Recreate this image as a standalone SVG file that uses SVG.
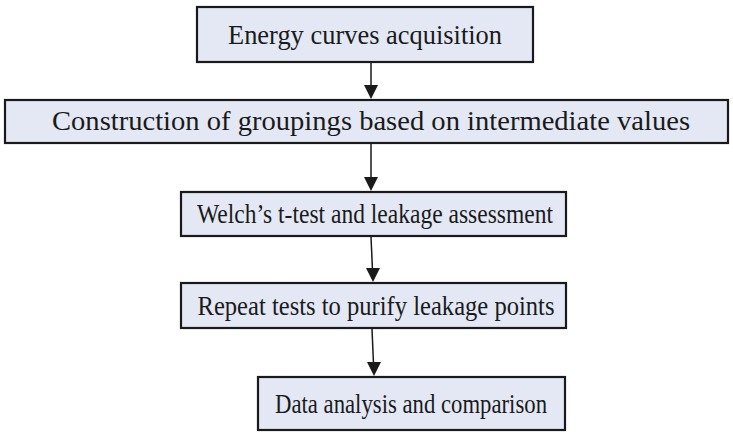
<svg xmlns="http://www.w3.org/2000/svg" width="733" height="433" viewBox="0 0 733 433">
<defs>
<style>
.box{fill:#E3E8F4;stroke:#1a1a1a;stroke-width:2.2}
.t{font-family:"Liberation Serif","Times New Roman",serif;font-size:27px;fill:#1a1a1a;text-anchor:middle}
.c{stroke:#1a1a1a;stroke-width:1.5;fill:none}
.h{fill:#1a1a1a}
</style>
</defs>
<rect width="733" height="433" fill="#ffffff"/>
<g id="connectors">
<line class="c" x1="371" y1="63" x2="371" y2="86"/>
<path class="h" d="M364,85 L378,85 L371,99 Z"/>
<line class="c" x1="371" y1="144" x2="371" y2="179"/>
<path class="h" d="M364,177 L378,177 L371,191 Z"/>
<line class="c" x1="371" y1="237" x2="372.5" y2="270"/>
<path class="h" d="M366,268 L380,268 L373,282 Z"/>
<line class="c" x1="372" y1="329" x2="373.5" y2="364"/>
<path class="h" d="M367,362 L381,362 L374,376 Z"/>
</g>
<g id="n1">
<rect class="box" x="197" y="7" width="336" height="55"/>
<text class="t" x="365" y="44" textLength="274" lengthAdjust="spacingAndGlyphs">Energy curves acquisition</text>
</g>
<g id="n2">
<rect class="box" x="5" y="100" width="723" height="43"/>
<text class="t" x="371" y="130" style="font-size:28px" textLength="638" lengthAdjust="spacingAndGlyphs">Construction of groupings based on intermediate values</text>
</g>
<g id="n3">
<rect class="box" x="181" y="192" width="385" height="44"/>
<text class="t" x="375" y="223" textLength="356" lengthAdjust="spacingAndGlyphs">Welch’s t-test and leakage assessment</text>
</g>
<g id="n4">
<rect class="box" x="181" y="283" width="385" height="45"/>
<text class="t" x="376" y="315" textLength="357" lengthAdjust="spacingAndGlyphs">Repeat tests to purify leakage points</text>
</g>
<g id="n5">
<rect class="box" x="258" y="377" width="307" height="53"/>
<text class="t" x="411" y="413" textLength="272" lengthAdjust="spacingAndGlyphs">Data analysis and comparison</text>
</g>
</svg>
